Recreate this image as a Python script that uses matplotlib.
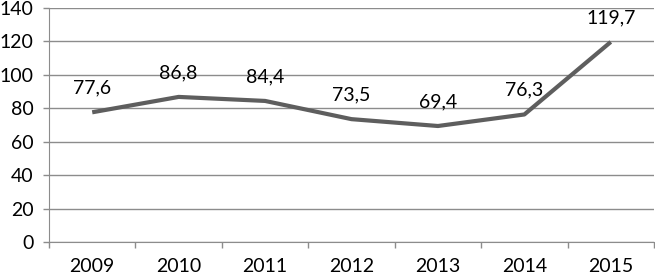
import matplotlib
matplotlib.use("Agg")
import matplotlib.pyplot as plt
from matplotlib.ticker import FixedLocator

years = ["2009", "2010", "2011", "2012", "2013", "2014", "2015"]
values = [77.6, 86.8, 84.4, 73.5, 69.4, 76.3, 119.7]
labels = ["77,6", "86,8", "84,4", "73,5", "69,4", "76,3", "119,7"]
yticks = [0, 20, 40, 60, 80, 100, 120, 140]

plt.rcParams['font.family'] = ['Lato', 'DejaVu Sans']
FS = 14

fig = plt.figure(figsize=(6.55, 2.76), dpi=100)
ax = fig.add_axes([49/655, 34/276, 605/655, 234/276])

x = list(range(len(years)))
ax.plot(x, values, color="#5e5e5e", lw=3.0, solid_capstyle="butt", zorder=3)
for xi, v, lab in zip(x, values, labels):
    ax.annotate(lab, (xi, v), xytext=(0, 13.5), textcoords="offset points",
                ha="center", va="baseline", fontsize=FS, color="black")

ax.set_xlim(-0.5, len(years) - 0.5)
ax.set_ylim(0, 140)
ax.set_yticks(yticks)
ax.set_yticklabels([str(t) for t in yticks])
ax.yaxis.grid(True, color="#8c8c8c", lw=1.0)
ax.set_axisbelow(True)

ax.set_xticks(x)
ax.set_xticklabels(years)
ax.xaxis.set_minor_locator(FixedLocator([i - 0.5 for i in range(len(years) + 1)]))
ax.tick_params(axis="x", which="major", length=0, pad=11.5, labelsize=FS)
ax.tick_params(axis="x", which="minor", length=4, color="#8c8c8c", width=1)
ax.tick_params(axis="y", length=4, color="#8c8c8c", width=1, labelsize=FS, pad=7)

for s in ["top", "right"]:
    ax.spines[s].set_visible(False)
ax.spines["left"].set_color("#8c8c8c")
ax.spines["bottom"].set_color("#8c8c8c")

fig.savefig("out.png", dpi=100)
